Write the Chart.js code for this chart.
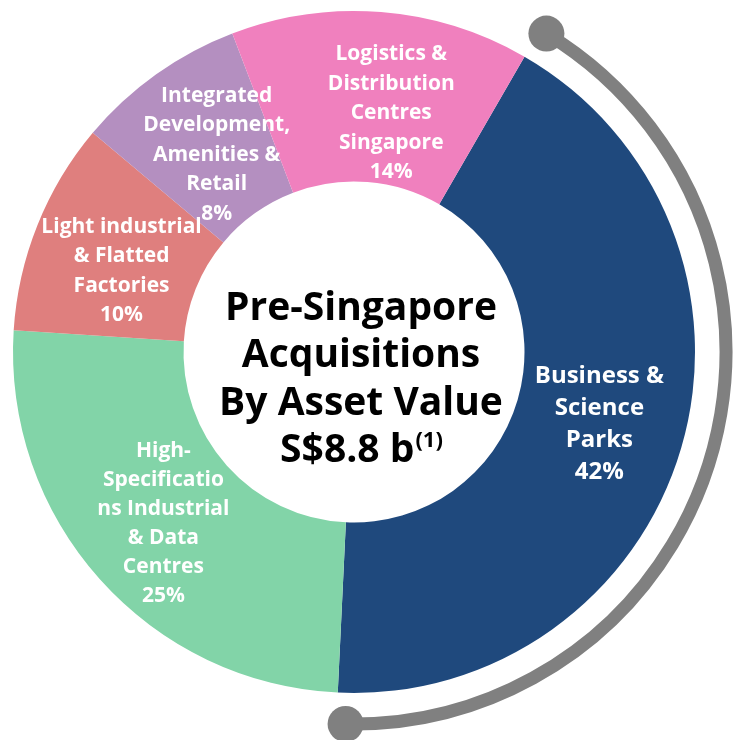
<!DOCTYPE html>
<html>
<head>
<meta charset="utf-8">
<script src="https://cdn.jsdelivr.net/npm/chart.js@4.4.1/dist/chart.umd.min.js"></script>
<style>
  html, body { margin: 0; padding: 0; background: #ffffff; }
  #wrap { width: 735px; height: 740px; position: relative; }
</style>
</head>
<body>
<div id="wrap"><canvas id="c" width="735" height="740"></canvas></div>
<script>
// ---- data ----
const categories = [
  "Business & Science Parks",
  "High-Specifications Industrial & Data Centres",
  "Light industrial & Flatted Factories",
  "Integrated Development, Amenities & Retail",
  "Logistics & Distribution Centres Singapore"
];
const values = [42, 25, 10, 8, 14];
const labelLines = [
  ["Business &", "Science", "Parks"],
  ["High-", "Specificatio", "ns Industrial", "& Data", "Centres"],
  ["Light industrial", "& Flatted", "Factories"],
  ["Integrated", "Development,", "Amenities &", "Retail"],
  ["Logistics &", "Distribution", "Centres", "Singapore"]
];
const colors = ["#1F497D", "#82D4A8", "#DF7F7E", "#B48FC0", "#F080BE"];
const centerTitle = ["Pre-Singapore", "Acquisitions", "By Asset Value", "S$8.8 b"];
const centerNote = "(1)";

const FONT = "'Open Sans', Lato, sans-serif";

const segmentLabels = {
  id: 'segmentLabels',
  afterDatasetsDraw(chart, args, opts) {
    const ctx = chart.ctx;
    const meta = chart.getDatasetMeta(0);
    ctx.save();
    ctx.fillStyle = '#ffffff';
    ctx.textAlign = 'center';
    ctx.textBaseline = 'middle';
    meta.data.forEach((arc, i) => {
      const p = arc.tooltipPosition();
      const off = opts.offsets[i];
      const lines = labelLines[i].concat([values[i] + '%']);
      const size = opts.sizes[i];
      const lh = opts.lineHeights[i];
      ctx.font = 'bold ' + size + 'px ' + FONT;
      const cx = p.x + off[0];
      const cy = p.y + off[1];
      const top = cy - (lines.length - 1) * lh / 2;
      lines.forEach((t, k) => ctx.fillText(t, cx, top + k * lh));
    });
    ctx.restore();
  }
};

const bracketArc = {
  id: 'bracketArc',
  afterDatasetsDraw(chart, args, opts) {
    const ctx = chart.ctx;
    const arc = chart.getDatasetMeta(0).data[0];
    const r = arc.outerRadius + opts.gap;
    const a0 = arc.startAngle + opts.trimStart;
    const a1 = arc.endAngle - opts.trimEnd;
    ctx.save();
    ctx.strokeStyle = opts.color;
    ctx.fillStyle = opts.color;
    ctx.lineWidth = opts.width;
    ctx.beginPath();
    ctx.arc(arc.x, arc.y, r, a0, a1);
    ctx.stroke();
    [a0, a1].forEach(a => {
      ctx.beginPath();
      ctx.arc(arc.x + r * Math.cos(a), arc.y + r * Math.sin(a), opts.dot, 0, Math.PI * 2);
      ctx.fill();
    });
    ctx.restore();
  }
};

const centerText = {
  id: 'centerText',
  afterDatasetsDraw(chart, args, opts) {
    const ctx = chart.ctx;
    const arc = chart.getDatasetMeta(0).data[0];
    const cx = arc.x + opts.dx;
    ctx.save();
    ctx.fillStyle = '#000000';
    ctx.textBaseline = 'middle';
    ctx.textAlign = 'center';
    ctx.font = 'bold ' + opts.size + 'px ' + FONT;
    const n = centerTitle.length;
    const top = arc.y + opts.dy - (n - 1) * opts.lineHeight / 2;
    centerTitle.forEach((t, k) => {
      const y = top + k * opts.lineHeight;
      if (k === n - 1) {
        ctx.font = 'bold ' + opts.size + 'px ' + FONT;
        const w1 = ctx.measureText(t).width;
        ctx.font = 'bold ' + opts.noteSize + 'px ' + FONT;
        const w2 = ctx.measureText(centerNote).width;
        const x0 = cx - (w1 + w2) / 2;
        ctx.textAlign = 'left';
        ctx.font = 'bold ' + opts.size + 'px ' + FONT;
        ctx.fillText(t, x0, y);
        ctx.font = 'bold ' + opts.noteSize + 'px ' + FONT;
        ctx.fillText(centerNote, x0 + w1 + 1, y - opts.noteRaise);
      } else {
        ctx.fillText(t, cx, y);
      }
    });
    ctx.restore();
  }
};

new Chart(document.getElementById('c'), {
  type: 'doughnut',
  data: {
    labels: categories,
    datasets: [{
      data: values,
      backgroundColor: colors,
      borderWidth: 0,
      hoverOffset: 0
    }]
  },
  options: {
    responsive: false,
    animation: false,
    rotation: 30,
    cutout: '50%',
    layout: { padding: { left: 13, right: 40, top: 11, bottom: 47 } },
    events: [],
    plugins: {
      legend: { display: false },
      tooltip: { enabled: false },
      title: { display: false },
      segmentLabels: {
        offsets: [[0, 0], [0, 1], [5, 14], [11, 11], [17, 16]],
        sizes: [24, 21, 21, 21, 21],
        lineHeights: [32, 29, 29.5, 29.5, 29.5]
      },
      bracketArc: { gap: 372 - 341, trimStart: 0.02, trimEnd: 0.025, width: 13, dot: 18, color: '#808080' },
      centerText: { dx: 7, dy: 28, size: 39, lineHeight: 47.5, noteSize: 22, noteRaise: 11 }
    }
  },
  plugins: [bracketArc, segmentLabels, centerText]
});
</script>
</body>
</html>
